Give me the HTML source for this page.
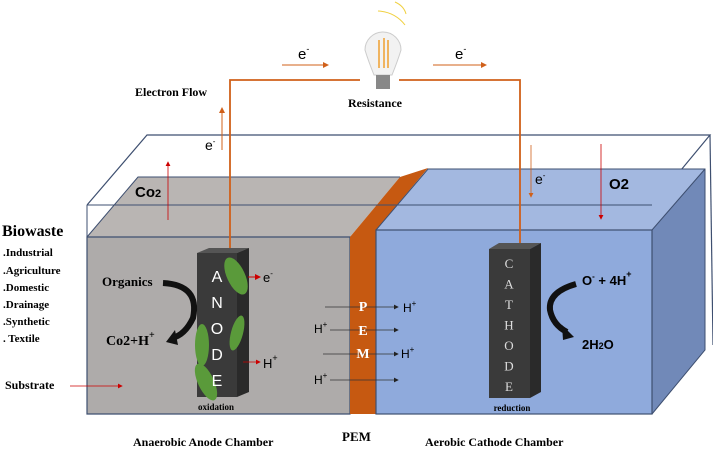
<!DOCTYPE html>
<html><head><style>body{margin:0;background:#fff}svg{display:block}</style></head><body>
<svg width="713" height="451" viewBox="0 0 713 451" xmlns="http://www.w3.org/2000/svg" font-family="Liberation Sans, sans-serif">
<defs>
<marker id="r" markerWidth="6" markerHeight="6" refX="5" refY="3" orient="auto"><path d="M0,0L6,3L0,6z" fill="#c00"/></marker>
<marker id="o" markerWidth="6" markerHeight="6" refX="5" refY="3" orient="auto"><path d="M0,0L6,3L0,6z" fill="#d0601a"/></marker>
<marker id="k" markerWidth="6" markerHeight="6" refX="5" refY="3" orient="auto"><path d="M0,0L6,3L0,6z" fill="#222"/></marker>
</defs>
<path d="M87,205 L147,135 L710,135 L652,205" fill="none" stroke="#3e4f70" stroke-width="1.2"/>
<path d="M710,135 L713,345" fill="none" stroke="#3e4f70" stroke-width="1.2"/>
<path d="M87,237 L138,177 L400,177 L350,237 Z" fill="#b9b5b3"/>
<path d="M87,237 L350,237 L350,414 L87,414 Z" fill="#aeabaa" stroke="#3e4f70" stroke-width="1.2"/>
<path d="M87,237 L138,177 L400,177" fill="none" stroke="#3e4f70"/>
<path d="M350,237 L400,177 L428,168 L376,230 L376,414 L350,414 Z" fill="#c65911"/>
<path d="M376,230 L428,169 L705,169 L652,230 Z" fill="#a3b8e0"/>
<path d="M652,230 L705,169 L705,350 L652,414 Z" fill="#7189b8"/>
<rect x="376" y="230" width="276" height="184" fill="#8faadc" stroke="#3e4f70" stroke-width="1.2"/>
<path d="M376,230 L428,169 L705,169 L705,350 L652,414 M652,230 L705,169" fill="none" stroke="#3e4f70"/>
<path d="M87,205 L652,205" stroke="#3e4f70" stroke-width="1"/>
<path d="M87,205 L87,237" stroke="#3e4f70"/>
<path d="M230,250 L230,80 L360,80 M399,80 L520,80 L520,244" fill="none" stroke="#d0601a" stroke-width="1.8"/>
<path d="M374,75 Q368,60 365,50 A18,18 0 1 1 401,50 Q398,60 392,75 Z" fill="#f2f2f2" stroke="#ccc"/>
<path d="M379,40 L379,68 M384,38 L384,68 M388,40 L388,68" stroke="#f0a030" stroke-width="1.5"/>
<rect x="376" y="75" width="14" height="14" fill="#888"/>
<path d="M378,11 Q395,12 405,25 M395,2 Q404,6 406,14" fill="none" stroke="#f0d040" stroke-width="1"/>
<line x1="282" y1="65" x2="328" y2="65" stroke="#d0601a" marker-end="url(#o)"/>
<line x1="433" y1="65" x2="486" y2="65" stroke="#d0601a" marker-end="url(#o)"/>
<text x="298" y="59" font-size="15">e<tspan font-size="9" dy="-7">-</tspan></text>
<text x="455" y="59" font-size="15">e<tspan font-size="9" dy="-7">-</tspan></text>
<text x="135" y="96" font-family="Liberation Serif, serif" font-weight="bold" font-size="12">Electron Flow</text>
<text x="348" y="107" font-family="Liberation Serif, serif" font-weight="bold" font-size="12">Resistance</text>
<line x1="222" y1="150" x2="222" y2="108" stroke="#d0601a" marker-end="url(#o)"/>
<text x="205" y="150" font-size="14">e<tspan font-size="8" dy="-6">-</tspan></text>
<line x1="168" y1="220" x2="168" y2="162" stroke="#c00" stroke-width="0.8" marker-end="url(#r)"/>
<text x="135" y="197" font-size="15" font-weight="bold">Co<tspan font-size="11">2</tspan></text>
<line x1="601" y1="144" x2="601" y2="219" stroke="#c00" stroke-width="0.8" marker-end="url(#r)"/>
<text x="609" y="189" font-size="15" font-weight="bold">O2</text>
<line x1="531" y1="145" x2="531" y2="197" stroke="#d0601a" stroke-width="0.8" marker-end="url(#o)"/>
<text x="535" y="184" font-size="14">e<tspan font-size="8" dy="-6">-</tspan></text>
<path d="M197,253 L209,248 L249,248 L237,253 Z" fill="#555"/>
<path d="M237,253 L249,248 L249,392 L237,397 Z" fill="#2a2a2a"/>
<rect x="197" y="253" width="40" height="144" fill="#3a3a3a"/>
<g fill="#5a9a3a">
<ellipse cx="236" cy="276" rx="9" ry="20" transform="rotate(-25 236 276)"/>
<ellipse cx="237" cy="333" rx="6" ry="18" transform="rotate(15 237 333)"/>
<ellipse cx="202" cy="345" rx="7" ry="21"/>
<ellipse cx="206" cy="382" rx="8" ry="20" transform="rotate(-25 206 382)"/>
</g>
<g font-size="16" fill="#fff" text-anchor="middle"><text x="217" y="282">A</text><text x="217" y="308">N</text><text x="217" y="334">O</text><text x="217" y="360">D</text><text x="217" y="386">E</text></g>
<text x="216" y="410" font-family="Liberation Serif, serif" font-weight="bold" font-size="9" text-anchor="middle">oxidation</text>
<line x1="248" y1="277" x2="260" y2="277" stroke="#c00" marker-end="url(#r)"/>
<text x="263" y="282" font-size="13">e<tspan font-size="8" dy="-6">-</tspan></text>
<line x1="243" y1="362" x2="260" y2="362" stroke="#c00" stroke-width="0.8" marker-end="url(#r)"/>
<text x="263" y="368" font-size="13">H<tspan font-size="9" dy="-7">+</tspan></text>
<path d="M163,283 Q200,285 193,318 Q185,335 172,338" fill="none" stroke="#111" stroke-width="6"/>
<path d="M175,330 L166,342 L178,345 Z" fill="#111"/>
<text x="102" y="286" font-family="Liberation Serif, serif" font-weight="bold" font-size="13">Organics</text>
<text x="106" y="345" font-family="Liberation Serif, serif" font-weight="bold" font-size="14">Co2+H<tspan font-size="10" dy="-7">+</tspan></text>
<g font-family="Liberation Serif, serif" font-weight="bold">
<text x="2" y="236" font-size="16">Biowaste</text>
<g font-size="11"><text x="3" y="256">.Industrial</text><text x="3" y="274">.Agriculture</text><text x="3" y="291">.Domestic</text><text x="3" y="308">.Drainage</text><text x="3" y="325">.Synthetic</text><text x="3" y="342">. Textile</text></g>
<text x="5" y="389" font-size="12">Substrate</text>
<text x="133" y="446" font-size="12">Anaerobic Anode Chamber</text>
<text x="342" y="441" font-size="13">PEM</text>
<text x="425" y="446" font-size="12">Aerobic Cathode Chamber</text>
</g>
<line x1="70" y1="386" x2="122" y2="386" stroke="#c00" stroke-width="0.8" marker-end="url(#r)"/>
<g stroke="#333" stroke-width="0.8">
<line x1="325" y1="307" x2="398" y2="307" marker-end="url(#k)"/>
<line x1="330" y1="330" x2="398" y2="330" marker-end="url(#k)"/>
<line x1="323" y1="354" x2="398" y2="354" marker-end="url(#k)"/>
<line x1="330" y1="380" x2="398" y2="380" marker-end="url(#k)"/>
</g>
<g font-size="12"><text x="314" y="333">H<tspan font-size="8" dy="-6">+</tspan></text><text x="314" y="384">H<tspan font-size="8" dy="-6">+</tspan></text>
<text x="403" y="312">H<tspan font-size="8" dy="-6">+</tspan></text><text x="401" y="358">H<tspan font-size="8" dy="-6">+</tspan></text></g>
<g font-family="Liberation Serif, serif" font-weight="bold" font-size="14" fill="#fff" text-anchor="middle"><text x="363" y="311">P</text><text x="363" y="335">E</text><text x="363" y="358">M</text></g>
<path d="M489,249 L499,243 L541,243 L530,249 Z" fill="#555"/>
<path d="M530,249 L541,243 L541,392 L530,398 Z" fill="#2a2a2a"/>
<rect x="489" y="249" width="41" height="149" fill="#3a3a3a"/>
<g font-family="Liberation Serif, serif" font-size="13" fill="#ddd" text-anchor="middle"><text x="509" y="268">C</text><text x="509" y="288.5">A</text><text x="509" y="309">T</text><text x="509" y="329.5">H</text><text x="509" y="350">O</text><text x="509" y="370.5">D</text><text x="509" y="391">E</text></g>
<text x="512" y="411" font-family="Liberation Serif, serif" font-weight="bold" font-size="9" text-anchor="middle">reduction</text>
<path d="M576,284 Q548,292 550,310 Q553,325 567,332" fill="none" stroke="#111" stroke-width="6"/>
<path d="M562,325 L574,337 L563,340 Z" fill="#111"/>
<text x="582" y="285" font-size="13" font-weight="bold">O<tspan font-size="8" dy="-6">-</tspan><tspan dy="6"> + 4H</tspan><tspan font-size="9" dy="-8">+</tspan></text>
<text x="582" y="349" font-size="13" font-weight="bold">2H<tspan font-size="9">2</tspan>O</text>
</svg>
</body></html>
